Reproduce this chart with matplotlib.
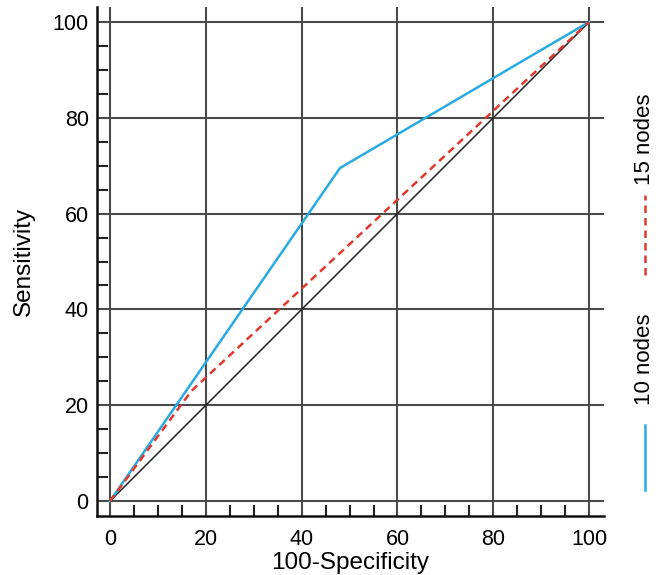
import matplotlib.pyplot as plt
from matplotlib.lines import Line2D

plt.rcParams['font.family'] = ['Liberation Sans', 'DejaVu Sans']

# ROC points
spec_10 = [0, 48, 100]
sens_10 = [0, 69.5, 100]
spec_15 = [0, 17, 100]
sens_15 = [0, 23, 100]
chance = [0, 100]

names = ['10 nodes', '15 nodes']
colors = ['#29abe2', '#e0382c']
styles = ['-', '--']

ticks = [0, 20, 40, 60, 80, 100]

fig = plt.figure(figsize=(6.65, 5.75), dpi=100)
ax = fig.add_axes([0.1459, 0.1026, 0.7624, 0.8852])

ax.plot(chance, chance, color='#222222', lw=1.1, zorder=3)
ax.plot(spec_10, sens_10, color=colors[0], ls=styles[0], lw=1.8, zorder=4)
ax.plot(spec_15, sens_15, color=colors[1], ls=styles[1], lw=1.8,
        dashes=(3, 2), zorder=4)

ax.set_xlim(-2.7, 103.1)
ax.set_ylim(-3.1, 103.1)
ax.set_xticks(ticks)
ax.set_yticks(ticks)
ax.set_xticks(range(0, 101, 5), minor=True)
ax.set_yticks(range(0, 101, 5), minor=True)
ax.grid(True, which='major', color='#4a4a4a', lw=1.5)
ax.tick_params(which='major', length=0, labelsize=15.5, pad=6)
ax.tick_params(which='minor', direction='in', length=8, width=1.5,
               color='#222222')
ax.tick_params(axis='x', which='major', pad=9)

for s in ['top', 'right']:
    ax.spines[s].set_visible(False)
for s in ['left', 'bottom']:
    ax.spines[s].set_linewidth(1.8)
    ax.spines[s].set_color('#111111')

ax.set_xlabel('100-Specificity', fontsize=17.5, labelpad=2)
ax.set_ylabel('Sensitivity', fontsize=17.5, labelpad=13)

# rotated legend on the right
lx = 645 / 665
fig.add_artist(Line2D([lx, lx], [0.148, 0.261], color=colors[0],
                      ls=styles[0], lw=1.8, transform=fig.transFigure))
fig.text(lx, 0.296, names[0], rotation=90, ha='center', va='bottom',
         fontsize=16)
fig.add_artist(Line2D([lx, lx], [0.522, 0.661], color=colors[1],
                      ls=styles[1], lw=1.8, dashes=(3, 2),
                      transform=fig.transFigure))
fig.text(lx, 0.678, names[1], rotation=90, ha='center', va='bottom',
         fontsize=16)

fig.savefig('out.png', dpi=100)
